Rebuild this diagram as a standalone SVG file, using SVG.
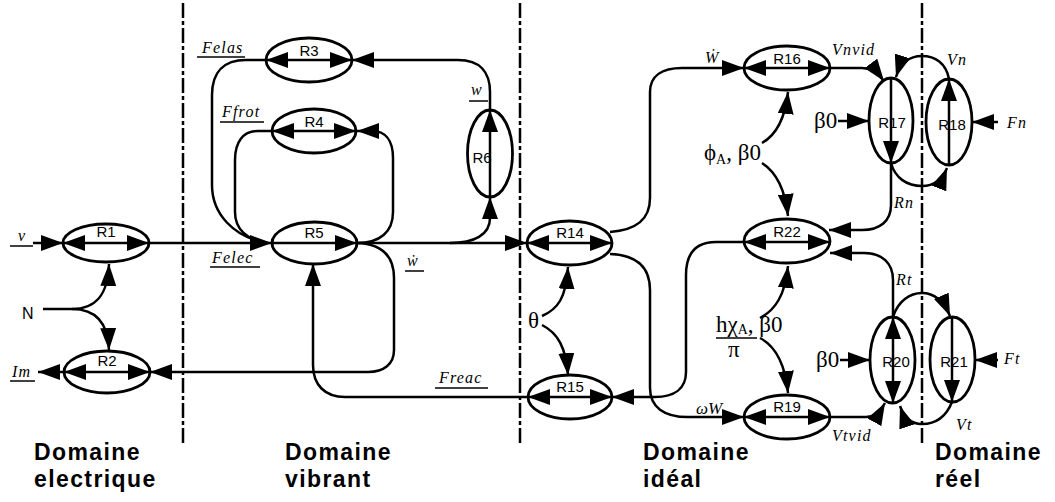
<svg xmlns="http://www.w3.org/2000/svg" width="1055" height="502" viewBox="0 0 1055 502">
<style>
.e{fill:none;stroke:#000;stroke-width:2.8}
.l{fill:none;stroke:#000;stroke-width:2.5}
.u{stroke:#000;stroke-width:1.5}
.dv{stroke:#000;stroke-width:2.5;stroke-dasharray:15 3 4 3}
.r{font-family:"Liberation Sans",Arial,sans-serif;font-size:15px;text-anchor:middle;fill:#000}
.it{font-family:"Liberation Serif","Times New Roman",serif;font-style:italic;font-size:16px;letter-spacing:1.2px;fill:#000}
.gk{font-family:"Liberation Serif","Times New Roman",serif;font-size:23px;fill:#000}
.sb{font-size:14px}
.n{font-family:"Liberation Sans",Arial,sans-serif;font-size:16px;fill:#000}
.d{font-family:"Liberation Sans",Arial,sans-serif;font-weight:bold;font-size:23px;letter-spacing:1.4px;fill:#000}
</style>
<defs>
<marker id="a" viewBox="0 0 22 16" refX="22" refY="8" markerWidth="22" markerHeight="16" markerUnits="userSpaceOnUse" orient="auto-start-reverse">
<path d="M0,0 L22,8 L0,16 z" fill="#000"/>
</marker>
</defs>
<rect width="1055" height="502" fill="#fff"/>

<g id="dividers">
<line class="dv" x1="183" y1="3" x2="183" y2="443"/>
<line class="dv" x1="520" y1="3" x2="520" y2="443"/>
<line class="dv" x1="922" y1="3" x2="922" y2="445"/>
</g>

<g id="connectors" class="l">
<path marker-end="url(#a)" d="M33,243 H63"/>
<path marker-end="url(#a)" d="M149,243 H272"/>
<path marker-end="url(#a)" d="M357,243 H527"/>
<path marker-end="url(#a)" d="M450,243 C474,243 490,235 490,218 V197"/>
<path marker-end="url(#a)" d="M490,110 V92 C490,72 480,60 458,60 H352"/>
<path d="M266,60 H246 C224,60 212,72 212,95 V185 C212,215 235,236 262,242"/>
<path d="M272,131 H258 C243,131 235,142 235,160 V212 C235,230 248,239 262,242"/>
<path marker-end="url(#a)" d="M357,243 C380,243 393,232 393,212 V158 C393,140 385,131 372,131 H357"/>
<path marker-end="url(#a)" d="M357,243 C382,244 394,256 394,278 V350 C394,364 384,372 368,372 H150"/>
<path marker-end="url(#a)" d="M63,372 H38"/>
<path marker-end="url(#a)" d="M43,309 H72 C95,309 108,296 109,264"/>
<path marker-end="url(#a)" d="M72,309 C95,309 108,322 109,350"/>
<path marker-end="url(#a)" d="M528,397 H345 C325,397 313,385 313,365 V264"/>
<path marker-end="url(#a)" d="M542,316 C558,309 566,298 568,267"/>
<path marker-end="url(#a)" d="M542,325 C558,333 566,348 568,375"/>
<path marker-end="url(#a)" d="M610,232 C636,230 650,220 650,198 V92 C650,76 662,68 682,68 H744"/>
<path marker-end="url(#a)" d="M610,254 C636,255 650,266 650,290 V388 C650,407 664,417 688,417 H744"/>
<path marker-end="url(#a)" d="M744,242 H716 C697,242 686,252 686,275 V372 C686,389 674,397 655,397 H612"/>
<path marker-end="url(#a)" d="M762,143 C776,135 785,120 788,92"/>
<path marker-end="url(#a)" d="M762,163 C776,172 785,188 788,216"/>
<path marker-end="url(#a)" d="M830,68 H862 C870,68 878,73 884,81"/>
<path marker-end="url(#a)" d="M949,79 C946,63 935,56 922,56 C909,56 900,64 896,77"/>
<path marker-end="url(#a)" d="M838,121 H869"/>
<path marker-end="url(#a)" d="M891,163 C895,178 907,186 922,186 C935,186 943,178 947,168"/>
<path marker-end="url(#a)" d="M998,122 H972"/>
<path marker-end="url(#a)" d="M891,163 V205 C891,221 880,230 862,230 H829"/>
<path marker-end="url(#a)" d="M893,317 V280 C893,263 882,253 864,253 H830"/>
<path marker-end="url(#a)" d="M760,318 C775,310 785,296 788,266"/>
<path marker-end="url(#a)" d="M760,338 C775,346 785,362 788,393"/>
<path marker-end="url(#a)" d="M830,417 H866 C874,417 880,412 885,403"/>
<path marker-end="url(#a)" d="M893,317 C898,301 910,293 922,293 C935,293 944,302 950,316"/>
<path marker-end="url(#a)" d="M840,360 H870"/>
<path marker-end="url(#a)" d="M998,360 H975"/>
<path marker-end="url(#a)" d="M952,402 C946,417 935,424 922,424 C911,424 904,418 900,406"/>
</g>

<g id="R1"><ellipse class="e" cx="106" cy="243" rx="43" ry="19"/><line class="l" x1="63" y1="243" x2="149" y2="243" marker-start="url(#a)" marker-end="url(#a)"/><text class="r" x="106" y="237">R1</text></g>
<g id="R2"><ellipse class="e" cx="107" cy="372" rx="43" ry="21"/><line class="l" x1="64" y1="372" x2="150" y2="372" marker-start="url(#a)" marker-end="url(#a)"/><text class="r" x="107" y="366">R2</text></g>
<g id="R3"><ellipse class="e" cx="309" cy="60" rx="43" ry="22"/><line class="l" x1="266" y1="60" x2="352" y2="60" marker-start="url(#a)" marker-end="url(#a)"/><text class="r" x="309" y="56">R3</text></g>
<g id="R4"><ellipse class="e" cx="314" cy="131" rx="42" ry="22"/><line class="l" x1="272" y1="131" x2="356" y2="131" marker-start="url(#a)" marker-end="url(#a)"/><text class="r" x="314" y="127">R4</text></g>
<g id="R5"><ellipse class="e" cx="314.5" cy="243" rx="42.5" ry="21"/><line class="l" x1="272" y1="243" x2="357" y2="243" marker-end="url(#a)"/><text class="r" x="314" y="238">R5</text></g>
<g id="R6"><ellipse class="e" cx="490" cy="153.5" rx="22.5" ry="43.5"/><line class="l" x1="490" y1="197" x2="490" y2="110" marker-end="url(#a)"/><text class="r" x="482" y="163">R6</text></g>
<g id="R14"><ellipse class="e" cx="569.5" cy="243" rx="42.5" ry="22"/><line class="l" x1="527" y1="243" x2="612" y2="243" marker-start="url(#a)" marker-end="url(#a)"/><text class="r" x="570" y="238">R14</text></g>
<g id="R15"><ellipse class="e" cx="570" cy="397" rx="42" ry="22"/><line class="l" x1="528" y1="397" x2="612" y2="397" marker-start="url(#a)" marker-end="url(#a)"/><text class="r" x="570" y="392">R15</text></g>
<g id="R16"><ellipse class="e" cx="787" cy="68" rx="43" ry="22"/><line class="l" x1="744" y1="68" x2="830" y2="68" marker-start="url(#a)" marker-end="url(#a)"/><text class="r" x="787" y="64">R16</text></g>
<g id="R17"><ellipse class="e" cx="891" cy="120.5" rx="22" ry="42.5"/><line class="l" x1="891" y1="78" x2="891" y2="163" marker-end="url(#a)"/><text class="r" x="892" y="128">R17</text></g>
<g id="R18"><ellipse class="e" cx="949" cy="122" rx="23" ry="43"/><line class="l" x1="949" y1="165" x2="949" y2="79" marker-end="url(#a)"/><text class="r" x="952" y="130">R18</text></g>
<g id="R22"><ellipse class="e" cx="787" cy="241" rx="43" ry="22"/><line class="l" x1="744" y1="242" x2="830" y2="242" marker-start="url(#a)" marker-end="url(#a)"/><text class="r" x="787" y="237">R22</text></g>
<g id="R19"><ellipse class="e" cx="787" cy="417" rx="43" ry="22"/><line class="l" x1="744" y1="417" x2="830" y2="417" marker-start="url(#a)" marker-end="url(#a)"/><text class="r" x="787" y="412">R19</text></g>
<g id="R20"><ellipse class="e" cx="892.5" cy="360" rx="22.5" ry="43"/><line class="l" x1="893" y1="317" x2="893" y2="403" marker-start="url(#a)" marker-end="url(#a)"/><text class="r" x="896" y="367">R20</text></g>
<g id="R21"><ellipse class="e" cx="952.5" cy="359.5" rx="22.5" ry="42.5"/><line class="l" x1="952" y1="317" x2="952" y2="402" marker-end="url(#a)"/><text class="r" x="954" y="367">R21</text></g>

<g id="labels">
<text class="it" x="18" y="241">v</text><line class="u" x1="10" y1="246" x2="33" y2="246"/>
<text class="it" x="12" y="377">Im</text><line class="u" x1="10" y1="381" x2="35" y2="381"/>
<text class="n" x="22" y="319">N</text>
<text class="it" x="212" y="263">Felec</text><line class="u" x1="210" y1="267" x2="260" y2="267"/>
<text class="it" x="202" y="53">Felas</text><line class="u" x1="197" y1="57" x2="245" y2="57"/>
<text class="it" x="222" y="117">Ffrot</text><line class="u" x1="220" y1="122" x2="264" y2="122"/>
<text class="it" x="471" y="95">w</text><line class="u" x1="469" y1="101" x2="488" y2="101"/>
<text class="it" x="407" y="266">ẇ</text><line class="u" x1="405" y1="271" x2="424" y2="271"/>
<text class="it" x="439" y="383">Freac</text><line class="u" x1="435" y1="388" x2="488" y2="388"/>
<text class="it" x="705" y="63">Ẇ</text>
<text class="it" x="832" y="55">Vnvid</text>
<text class="it" x="947" y="65">Vn</text>
<text class="it" x="1007" y="128">Fn</text>
<text class="it" x="894" y="208">Rn</text>
<text class="it" x="896" y="285">Rt</text>
<text class="it" x="1004" y="364">Ft</text>
<text class="it" x="956" y="430">Vt</text>
<text class="it" x="832" y="441">Vtvid</text>
<text class="it" x="696" y="414" style="letter-spacing:0;font-size:17px">ωW</text>
<text class="gk" x="528" y="328">θ</text>
<text class="gk" x="814" y="128">β0</text>
<text class="gk" x="816" y="367">β0</text>
<text class="gk" x="704" y="160">ϕ<tspan class="sb" dy="4">A</tspan><tspan dy="-4">, β0</tspan></text>
<text class="gk" x="716" y="332">hχ<tspan class="sb" dy="2">A</tspan><tspan dy="-2">, β0</tspan></text>
<line class="u" x1="716" y1="338" x2="757" y2="338"/>
<text class="gk" x="728" y="357">π</text>
<text class="d" x="34" y="460">Domaine</text>
<text class="d" x="34" y="487">electrique</text>
<text class="d" x="285" y="460">Domaine</text>
<text class="d" x="285" y="487">vibrant</text>
<text class="d" x="643" y="460">Domaine</text>
<text class="d" x="643" y="487">idéal</text>
<text class="d" x="935" y="460">Domaine</text>
<text class="d" x="935" y="487">réel</text>
</g>
</svg>
